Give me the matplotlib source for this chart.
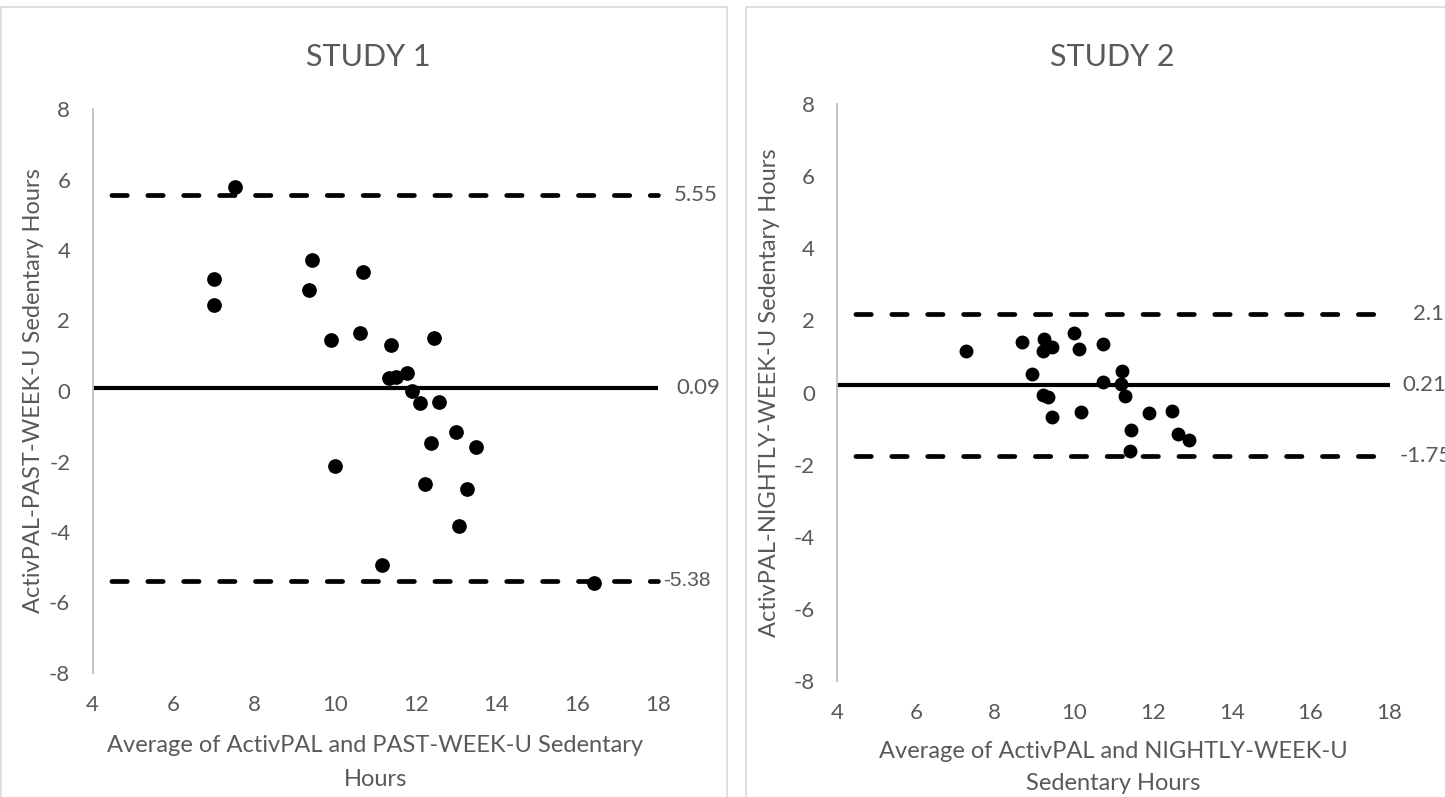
import matplotlib
matplotlib.use("Agg")
import matplotlib.pyplot as plt
from matplotlib.patches import Rectangle

plt.rcParams['font.family'] = ['Lato', 'DejaVu Sans']
plt.rcParams['axes.unicode_minus'] = False

# ---- data ----
study1_avg = [7.53, 7.01, 7.02, 9.44, 9.37, 10.70, 9.91, 10.63, 11.38, 12.46,
              11.79, 11.33, 11.51, 11.90, 12.12, 12.59, 13.00, 12.39, 13.49,
              10.01, 12.22, 13.28, 13.07, 11.17, 16.41]
study1_diff = [5.80, 3.17, 2.45, 3.72, 2.86, 3.37, 1.46, 1.65, 1.30, 1.49,
               0.51, 0.38, 0.40, 0.00, -0.34, -0.30, -1.17, -1.47, -1.60,
               -2.12, -2.65, -2.77, -3.82, -4.94, -5.45]
study1_limits = [5.55, 0.09, -5.38]   # upper LoA, mean bias, lower LoA

study2_avg = [7.28, 8.69, 9.25, 9.23, 9.46, 10.00, 10.12, 10.73, 8.95, 11.22,
              10.73, 11.20, 9.23, 9.34, 11.29, 9.44, 10.18, 11.90, 12.50,
              11.44, 12.64, 12.91, 11.42]
study2_diff = [1.14, 1.41, 1.47, 1.15, 1.26, 1.64, 1.22, 1.35, 0.52, 0.61,
               0.30, 0.23, -0.08, -0.12, -0.10, -0.68, -0.53, -0.56, -0.52,
               -1.05, -1.14, -1.31, -1.62]
study2_limits = [2.17, 0.21, -1.75]

titles = ["STUDY 1", "STUDY 2"]
xlabels = ["Average of ActivPAL and PAST-WEEK-U Sedentary\nHours",
           "Average of ActivPAL and NIGHTLY-WEEK-U\nSedentary Hours"]
ylabels = ["ActivPAL-PAST-WEEK-U Sedentary Hours",
           "ActivPAL-NIGHTLY-WEEK-U Sedentary Hours"]
xticks = [4, 6, 8, 10, 12, 14, 16, 18]
yticks = [-8, -6, -4, -2, 0, 2, 4, 6, 8]

# ---- layout (pixels) ----
W, H = 1445, 797
GRAY = '#595959'
fig = plt.figure(figsize=(W / 100, H / 100), dpi=100)


def px_rect(x0, y0, x1, y1):
    # pixel box (top-left origin) -> figure fraction
    return [x0 / W, 1 - y1 / H, (x1 - x0) / W, (y1 - y0) / H]


# chart area borders
for bx0, bx1 in [(1, 727), (746, 1480)]:
    r = px_rect(bx0, 7, bx1, 820)
    fig.add_artist(Rectangle((r[0], r[1]), r[2], r[3], transform=fig.transFigure,
                             fill=False, ec='#d9d9d9', lw=1.2))

panels = [
    dict(box=(92.5, 109, 658, 673), xs=study1_avg, ys=study1_diff, lim=study1_limits,
         title_xy=(368, 57), ylab_x=34, xlab_y=(746, 779), lab_off=[16, 18, 5],
         ms=10.6),
    dict(box=(837, 104, 1389.5, 681), xs=study2_avg, ys=study2_diff, lim=study2_limits,
         title_xy=(1112, 57), ylab_x=769, xlab_y=(751, 783), lab_off=[23, 13, 10],
         ms=10.0),
]

for i, p in enumerate(panels):
    x0, y0, x1, y1 = p['box']
    ax = fig.add_axes(px_rect(x0, y0, x1, y1))
    ax.set_xlim(xticks[0], xticks[-1])
    ax.set_ylim(yticks[0], yticks[-1])
    ax.set_xticks(xticks)
    ax.set_yticks(yticks)
    for s in ['top', 'right', 'bottom']:
        ax.spines[s].set_visible(False)
    ax.spines['left'].set_color('#c0c0c0')
    ax.spines['left'].set_linewidth(1.3)
    ax.tick_params(length=0, labelsize=16, labelcolor=GRAY)
    ax.tick_params(axis='y', pad=16)
    ax.tick_params(axis='x', pad=16)

    xa, xb = ax.get_xlim()
    up, mean, lo = p['lim']
    for v in (up, lo):
        ax.plot([xa, xb], [v, v], color='black', lw=3.4,
                linestyle=(3.7, (3.26, 4.34)), dash_capstyle='round',
                solid_capstyle='round', zorder=2, clip_on=False)
    ax.plot([xa, xb], [mean, mean], color='black', lw=3.0,
            solid_capstyle='butt', zorder=2, clip_on=False)

    ax.plot(p['xs'], p['ys'], 'o', color='black', ms=p['ms'], mec='black',
            mew=0, zorder=3, clip_on=False)

    for v, off in zip(p['lim'], p['lab_off']):
        fam = ['Liberation Sans', 'DejaVu Sans'] if (i == 0 and v < 0) else ['Lato', 'DejaVu Sans']
        ax.annotate(f"{v:.2f}", xy=(xb, v), xytext=(off * 0.72, 0),
                    textcoords='offset points', ha='left', va='center',
                    fontsize=16 if fam[0] == 'Lato' else 15, color=GRAY,
                    family=fam, annotation_clip=False)

    tx, ty = p['title_xy']
    fig.text(tx / W, 1 - ty / H, titles[i], ha='center', va='center',
             fontsize=22, color=GRAY)

    fig.text(p['ylab_x'] / W, 1 - ((y0 + y1) / 2) / H, ylabels[i], rotation=90,
             ha='center', va='center', fontsize=17, color=GRAY)

    line1, line2 = xlabels[i].split('\n')
    cx = (x0 + x1) / 2
    fig.text(cx / W, 1 - p['xlab_y'][0] / H, line1, ha='center', va='center',
             fontsize=17, color=GRAY)
    fig.text(cx / W, 1 - p['xlab_y'][1] / H, line2, ha='center', va='center',
             fontsize=17, color=GRAY)

fig.savefig('out.png', dpi=100, facecolor='white')
